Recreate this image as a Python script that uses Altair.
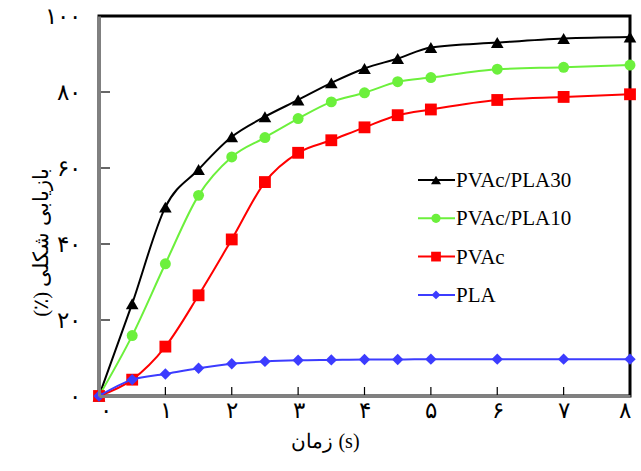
import altair as alt
import pandas as pd

# Sample times (s)
times = [0, 0.5, 1, 1.5, 2, 2.5, 3, 3.5, 4, 4.5, 5, 6, 7, 8]

# Shape recovery (%) for each material
pvac_pla30 = [0, 24.3, 49.7, 59.6, 68.2, 73.5, 77.9, 82.4, 86.2, 88.8, 91.7, 93.0, 94.1, 94.5]
pvac_pla10 = [0, 15.9, 34.8, 52.8, 62.9, 68.0, 73.0, 77.4, 79.8, 82.7, 83.8, 86.0, 86.5, 87.1]
pvac = [0, 4.3, 13.0, 26.5, 41.2, 56.3, 64.0, 67.3, 70.7, 73.9, 75.4, 77.9, 78.7, 79.4]
pla = [0, 4.3, 5.8, 7.3, 8.5, 9.1, 9.4, 9.5, 9.6, 9.6, 9.7, 9.7, 9.7, 9.7]

series_names = ["PVAc/PLA30", "PVAc/PLA10", "PVAc", "PLA"]
series_values = [pvac_pla30, pvac_pla10, pvac, pla]

# Axis tick values and their Persian labels
x_ticks = [0, 1, 2, 3, 4, 5, 6, 7, 8]
x_tick_labels = ["۰", "۱", "۲", "۳", "۴", "۵", "۶", "۷", "۸"]
y_ticks = [0, 20, 40, 60, 80, 100]
y_tick_labels = ["۰", "۲۰", "۴۰", "۶۰", "۸۰", "۱۰۰"]

x_title = "زمان (s)"
y_title = "(٪) بازیابی شکلی"

# Styling per series
colors = ["#000000", "#6cf03c", "#ff0000", "#3c3cff"]
shapes = ["triangle-up", "circle", "square", "diamond"]
marker_sizes = [160, 120, 140, 130]
legend_sizes = [100, 85, 95, 80]

FONT = "Liberation Serif"
W, H = 531, 380

x_label_expr = "[" + ",".join(f"'{s}'" for s in x_tick_labels) + "][datum.value]"
y_label_expr = "[" + ",".join(f"'{s}'" for s in y_tick_labels) + "][datum.value / 20]"

x_axis = alt.Axis(
    values=x_ticks, labelExpr=x_label_expr, ticks=False, grid=False,
    labelFont=FONT, labelFontSize=23, labelColor="black", labelPadding=3,
    domainColor="#808080", domainWidth=3,
    title=x_title, titleFont=FONT, titleFontSize=20, titleFontWeight="normal",
    titleColor="black", titleX=226, titleY=45, titleBaseline="middle",
    zindex=1,
)
y_axis = alt.Axis(
    values=y_ticks, labelExpr=y_label_expr, ticks=False, grid=False,
    labelFont=FONT, labelFontSize=23, labelColor="black", labelPadding=19,
    labelBaseline="middle",
    domainColor="#808080", domainWidth=3,
    title=y_title, titleFont=FONT, titleFontSize=21, titleFontWeight="normal",
    titleColor="black", titleX=-58, titleY=226, titleBaseline="middle",
    titleAngle=270,
    zindex=1,
)

x_enc = alt.X("t:Q", scale=alt.Scale(domain=[0, 8], nice=False, zero=False), axis=x_axis)
y_enc = alt.Y("r:Q", scale=alt.Scale(domain=[0, 100], nice=False), axis=y_axis)

layers = []

# Inward major ticks
ytick_df = pd.DataFrame({"r": y_ticks[1:-1]})
layers.append(
    alt.Chart(ytick_df).mark_rule(color="black", strokeWidth=1.2).encode(
        y=y_enc, x=alt.value(0), x2=alt.value(11)
    )
)
xtick_df = pd.DataFrame({"t": x_ticks[1:-1]})
layers.append(
    alt.Chart(xtick_df).mark_rule(color="black", strokeWidth=1.2).encode(
        x=x_enc, y=alt.value(H), y2=alt.value(H - 9)
    )
)

# Series curves and markers
for name, vals, c, shp, sz in zip(series_names, series_values, colors, shapes, marker_sizes):
    df = pd.DataFrame({"t": times, "r": vals, "series": name})
    base = alt.Chart(df)
    layers.append(
        base.mark_line(color=c, strokeWidth=2, interpolate="monotone").encode(x=x_enc, y=y_enc)
    )
    layers.append(
        base.mark_point(filled=True, shape=shp, size=sz, color=c, opacity=1).encode(x=x_enc, y=y_enc)
    )

# Legend inside the plot
for i, (name, c, shp, sz) in enumerate(zip(series_names, colors, shapes, legend_sizes)):
    ly = 164 + 38.3 * i
    ldf = pd.DataFrame({"series": [name]})
    lb = alt.Chart(ldf)
    layers.append(
        lb.mark_rule(color=c, strokeWidth=2).encode(
            x=alt.value(319), x2=alt.value(356), y=alt.value(ly)
        )
    )
    layers.append(
        lb.mark_point(filled=True, shape=shp, size=sz, color=c, opacity=1).encode(
            x=alt.value(337), y=alt.value(ly)
        )
    )
    layers.append(
        lb.mark_text(align="left", baseline="middle", font=FONT, fontSize=21, color="black").encode(
            text="series:N", x=alt.value(357), y=alt.value(ly + 1)
        )
    )

chart = (
    alt.layer(*layers)
    .properties(
        width=W, height=H,
        padding={"left": 99, "top": 16, "right": 11, "bottom": 75},
        autosize="none",
        background="white",
    )
    .configure_view(stroke="black", strokeWidth=3)
)

chart.save("out.html", embed_options={"renderer": "svg", "actions": False})
